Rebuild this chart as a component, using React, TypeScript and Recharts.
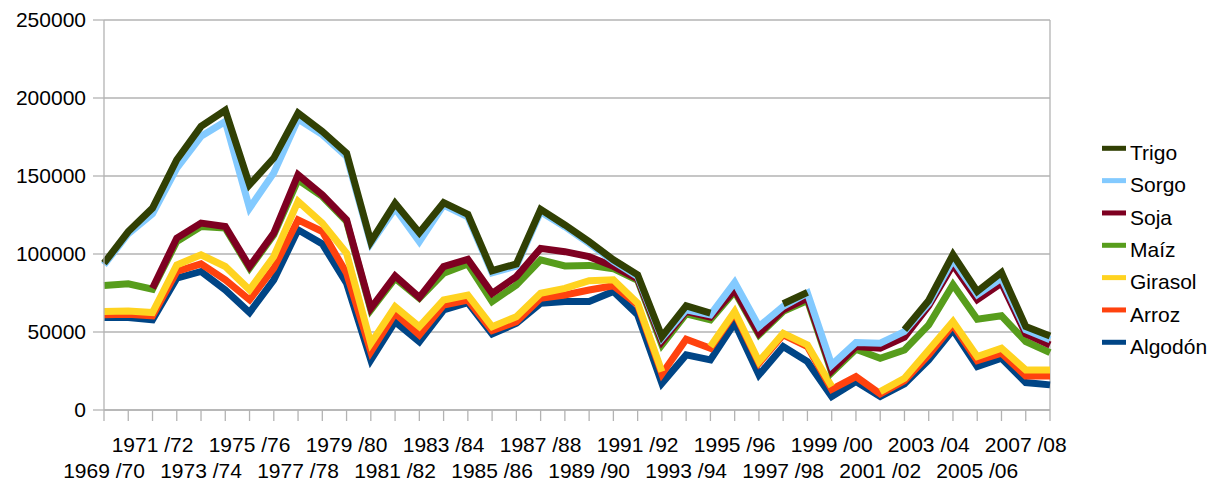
import React from 'react';
import { LineChart, Line, XAxis, YAxis, CartesianGrid, Legend, ReferenceLine } from 'recharts';

const FONT = "'Liberation Sans', Arial, sans-serif";

const categories = [
  '1969 /70', '1970 /71', '1971 /72', '1972 /73', '1973 /74', '1974 /75', '1975 /76', '1976 /77',
  '1977 /78', '1978 /79', '1979 /80', '1980 /81', '1981 /82', '1982 /83', '1983 /84', '1984 /85',
  '1985 /86', '1986 /87', '1987 /88', '1988 /89', '1989 /90', '1990 /91', '1991 /92', '1992 /93',
  '1993 /94', '1994 /95', '1995 /96', '1996 /97', '1997 /98', '1998 /99', '1999 /00', '2000 /01',
  '2001 /02', '2002 /03', '2003 /04', '2004 /05', '2005 /06', '2006 /07', '2007 /08', '2008 /09',
];

const algodon = [59300, 59300, 57800, 84500, 88800, 77000, 62500, 83400, 115500, 106500, 81300, 32100, 56600, 43800, 64100, 68800, 48700, 55600, 68400, 69500, 69500, 76000, 61000, 17100, 35300, 32100, 55700, 22500, 40700, 31000, 8600, 18200, 8600, 16700, 32100, 51400, 27800, 33200, 17600, 16100];
const arroz = [1700, 2100, 2500, 4300, 4900, 6400, 8100, 7500, 6400, 7900, 6400, 5300, 5400, 4300, 3200, 1700, 2200, 1000, 3200, 4200, 7400, 3600, 6400, 6000, 10100, 7500, 6400, 7500, 7500, 9700, 4700, 3200, 1700, 2100, 3200, 3200, 3900, 3200, 4200, 5700];
const girasol = [2100, 2100, 2200, 4200, 5800, 8600, 6400, 7500, 11800, 5400, 12800, 5300, 4200, 5300, 3200, 3200, 2500, 3200, 3200, 4300, 6000, 3900, 1100, 1500, null, 1100, 1100, 1000, 1000, 1000, 1700, null, 1500, 1500, 3200, 2100, 2600, 3200, 3900, 3900];
const maiz = [16700, 17400, 14900, 15000, 18100, 24600, 13900, 13900, 13900, 17100, 20400, 21400, 18200, 18200, 17100, 19900, 16100, 20300, 21400, 14300, 9800, 7100, 14600, 17100, 16300, 17100, 12800, 17200, 14000, 28500, 9000, 17600, 21400, 18200, 16100, 23600, 23900, 20800, 18200, 11100];
const soja = [null, null, 700, 2200, 2200, 1000, 1100, 1100, 3200, 1100, 1000, 1100, 1500, 600, 4300, 3000, 5300, 5400, 7400, 9200, 5600, 1500, 1000, 2200, 1500, 1700, 1100, 1000, 1000, 1500, 1300, 1700, 6400, 8200, 12200, 12800, 12500, 21000, 4900, 4900];
const sorgo = [13200, 32100, 47700, 44800, 55600, 67400, 37400, 38600, 35700, 38500, 40700, 41600, 43400, 35700, 39500, 27200, 13200, 6800, 23500, 16000, 8500, 3200, 1500, 2100, 1000, 1500, 4700, 4300, 2200, 3200, 3600, 2500, 3200, 3600, 1700, 3200, 3200, 3200, 2600, 3300];
const trigo = [1100, 1400, 3600, 5400, 6400, 7100, 15000, 9500, 3900, 2100, 2100, 1100, 3200, 5800, 1500, 1600, 1300, 1300, 1500, 1100, 1100, 1000, 1100, 1100, 2600, 1100, null, null, 1700, 500, null, null, null, 1100, 1700, 3300, 2100, 3600, 2100, 2500];

const yTicks = [0, 50000, 100000, 150000, 200000, 250000];

// stacking order: bottom to top
const seriesDefs = [
  { key: 'algodon', name: 'Algodón', values: algodon, color: '#004586' },
  { key: 'arroz', name: 'Arroz', values: arroz, color: '#ff420e' },
  { key: 'girasol', name: 'Girasol', values: girasol, color: '#ffd320' },
  { key: 'maiz', name: 'Maíz', values: maiz, color: '#579d1c' },
  { key: 'soja', name: 'Soja', values: soja, color: '#7e0021' },
  { key: 'sorgo', name: 'Sorgo', values: sorgo, color: '#83caff' },
  { key: 'trigo', name: 'Trigo', values: trigo, color: '#314004' },
];

const data = categories.map((name, i) => {
  const row: Record<string, any> = { name };
  let sum = 0;
  for (const s of seriesDefs) {
    const v = s.values[i];
    sum += v == null ? 0 : v;
    row[s.key] = v == null ? null : sum;
  }
  return row;
});

const XTick = (props: any) => {
  const { x, y, payload, index } = props;
  const idx = typeof index === 'number' ? index : payload.index;
  if (idx % 2 !== 0) return null;
  const lower = idx % 4 === 0;
  return (
    <text x={x} y={y + (lower ? 55 : 29)} textAnchor="middle" fill="#000" fontSize={21} fontFamily={FONT}>
      {payload.value}
    </text>
  );
};

const renderLegend = () => (
  <svg width={118} height={230} style={{ display: 'block' }}>
    {[...seriesDefs].reverse().map((s, k) => (
      <g key={s.key}>
        <line x1={7} x2={31} y1={18.3 + 32.33 * k} y2={18.3 + 32.33 * k} stroke={s.color} strokeWidth={5} />
        <text x={35} y={30 + 32.33 * k} fontSize={21} fontFamily={FONT} fill="#000">
          {s.name}
        </text>
      </g>
    ))}
  </svg>
);

export default function App() {
  return (
    <div style={{ position: 'absolute', left: 0, top: 0, fontFamily: FONT }}>
      <LineChart width={1213} height={482} data={data} margin={{ top: 20, right: 163, bottom: 0, left: 0 }}>
        <CartesianGrid vertical={false} stroke="#b3b3b3" strokeWidth={1.3} />
        <ReferenceLine x={categories[categories.length - 1]} stroke="#b3b3b3" strokeWidth={1.3} />
        <XAxis
          dataKey="name"
          interval={0}
          height={72}
          tickSize={11}
          axisLine={{ stroke: '#b3b3b3', strokeWidth: 1.3 }}
          tickLine={{ stroke: '#b3b3b3', strokeWidth: 1.3 }}
          tick={<XTick />}
        />
        <YAxis
          width={104}
          domain={[0, 250000]}
          ticks={yTicks}
          tickSize={11}
          tickMargin={7}
          axisLine={{ stroke: '#b3b3b3', strokeWidth: 1.3 }}
          tickLine={{ stroke: '#b3b3b3', strokeWidth: 1.3 }}
          tick={{ fill: '#000', fontSize: 21, fontFamily: FONT }}
        />
        {seriesDefs.map((s) => (
          <Line
            key={s.key}
            dataKey={s.key}
            name={s.name}
            stroke={s.color}
            strokeWidth={7}
            dot={false}
            activeDot={false}
            isAnimationActive={false}
            type="linear"
          />
        ))}
        <Legend
          layout="horizontal"
          align="center"
          verticalAlign="middle"
          content={renderLegend}
          wrapperStyle={{ left: 1095, top: 130, width: 118, height: 230 }}
        />
      </LineChart>
    </div>
  );
}
